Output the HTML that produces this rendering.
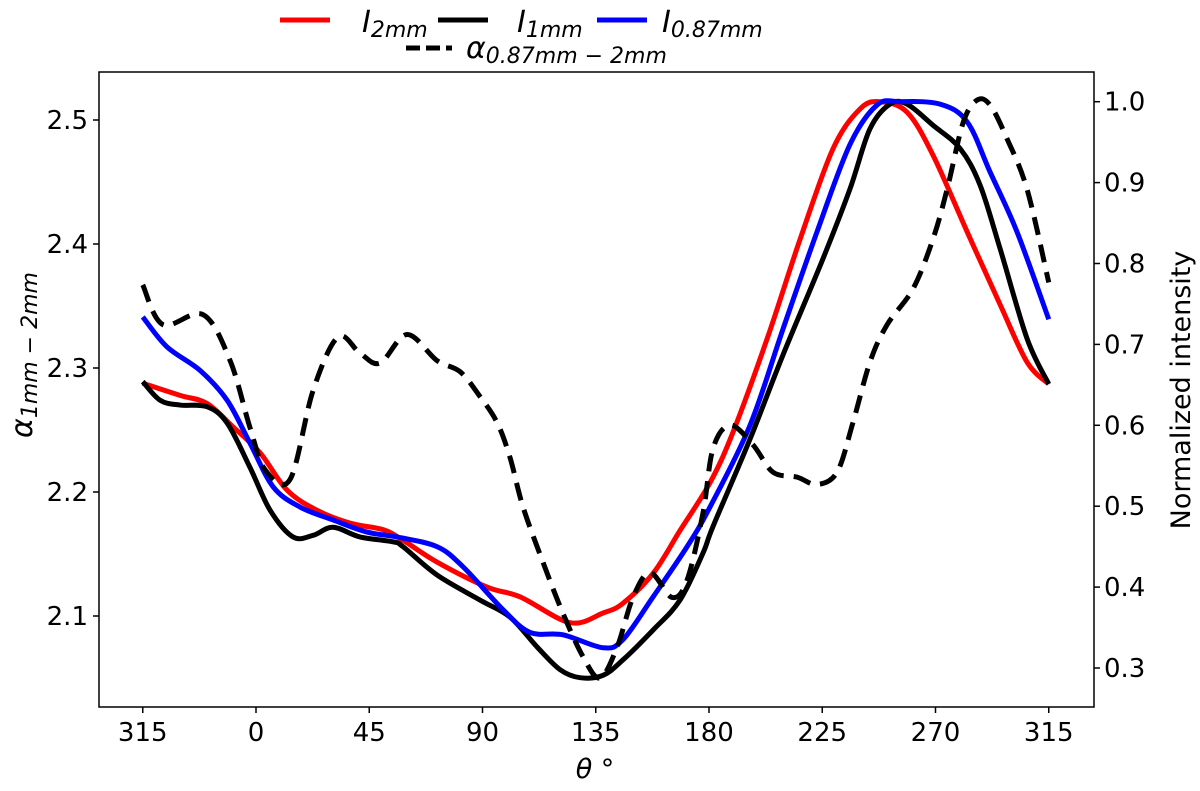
<!DOCTYPE html>
<html><head><meta charset="utf-8"><style>
body{margin:0;background:#fff;}
svg text{font-family:"DejaVu Sans","Liberation Sans",sans-serif;fill:#000;}
</style></head><body>
<svg id="chart" width="1200" height="786" viewBox="0 0 1200 786" xmlns="http://www.w3.org/2000/svg">
<g id="legend">
 <g><line x1="280" y1="20" x2="330" y2="20" stroke="#f00" stroke-width="5"/><text x="362" y="32" font-size="30" font-style="italic">I<tspan font-size="22" dy="5">2mm</tspan></text></g>
 <g><line x1="438" y1="20" x2="488" y2="20" stroke="#000" stroke-width="5"/><text x="517" y="32" font-size="30" font-style="italic">I<tspan font-size="22" dy="5">1mm</tspan></text></g>
 <g><line x1="597" y1="20" x2="647" y2="20" stroke="#00f" stroke-width="5"/><text x="662" y="32" font-size="30" font-style="italic">I<tspan font-size="22" dy="5">0.87mm</tspan></text></g>
 <g><line x1="406" y1="48" x2="452" y2="48" stroke="#000" stroke-width="5" stroke-dasharray="14,6"/><text x="466" y="58" font-size="30" font-style="italic">α<tspan font-size="22" dy="5">0.87mm − 2mm</tspan></text></g>
</g>
<g id="axes"></g>
<g id="series"></g>
<rect x="99" y="72" width="995" height="635" fill="none" stroke="#000" stroke-width="1.5"/>
<text transform="translate(32,355) rotate(-90)" text-anchor="middle" font-size="30" font-style="italic">α<tspan font-size="22" dy="5">1mm − 2mm</tspan></text>
<text transform="translate(1190,390) rotate(-90)" text-anchor="middle" font-size="27">Normalized intensity</text>
<text x="595" y="778" text-anchor="middle" font-size="27" font-style="italic">θ °</text>
</svg>
<script>
const xTicks=[-45,0,45,90,135,180,225,270,315];
const xTickLabels=["315","0","45","90","135","180","225","270","315"];
const leftTicks=[2.1,2.2,2.3,2.4,2.5];
const rightTicks=[0.3,0.4,0.5,0.6,0.7,0.8,0.9,1.0];
const alphaTheta=[-45,-37,-21,-10.3,-2.4,3.6,13.5,22.7,32.6,41.3,49.3,60,71.9,81.1,89,95.8,100.9,106.1,114.1,122,130,136.7,143.5,149.8,156.6,165.3,171.3,177.6,181.6,188.4,197.5,205.4,215,222.9,230.9,237.2,244,250.8,261.1,269,274.6,281,286.5,291.7,298.4,306.4,315];
const alphaVals=[2.367,2.335,2.343,2.306,2.252,2.218,2.21,2.282,2.325,2.312,2.304,2.327,2.306,2.297,2.277,2.256,2.228,2.188,2.143,2.102,2.067,2.05,2.075,2.115,2.135,2.115,2.129,2.183,2.235,2.254,2.238,2.216,2.212,2.206,2.216,2.256,2.305,2.335,2.364,2.404,2.444,2.498,2.516,2.512,2.485,2.444,2.369];
const redTheta=[-45,-30.2,-19.5,-9.1,1.6,12.3,24.2,37.4,50.5,58.4,71.9,91.8,104.9,124.8,137.9,145.8,157.8,168.5,180.4,189.6,203.1,216.2,229.3,240,248,258.7,269,282.6,295.7,306.4,315];
const redVals=[0.652,0.637,0.627,0.598,0.566,0.52,0.495,0.479,0.471,0.458,0.431,0.40,0.388,0.356,0.368,0.38,0.417,0.47,0.529,0.592,0.707,0.83,0.942,0.991,1.0,0.987,0.934,0.839,0.749,0.678,0.651];
const blackTheta=[-45,-38.1,-30.2,-19.5,-11.5,-2.4,5.6,14.7,22.7,30.6,41.3,54.4,58.4,71.9,89,100.9,111.7,120.8,128.8,137.9,145.8,157.8,168.5,177.6,181.6,196.3,209.4,225.3,236,243.9,251.9,258.7,269,279.8,287.7,295.7,306.4,315];
const blackVals=[0.654,0.631,0.625,0.623,0.603,0.548,0.495,0.462,0.464,0.474,0.462,0.456,0.45,0.415,0.384,0.363,0.326,0.298,0.288,0.291,0.31,0.347,0.384,0.442,0.475,0.583,0.687,0.806,0.892,0.966,0.997,0.997,0.971,0.942,0.897,0.818,0.707,0.651];
const blueTheta=[-45,-35.4,-22.3,-11.5,-2.4,6.8,17.5,30.6,44.1,56,71.9,82.3,98.2,108.9,122,137.9,145.8,157.8,171.3,180.4,196.3,209.4,222.9,236,246.8,255.9,271.8,282.6,291.7,302.4,315];
const blueVals=[0.734,0.697,0.668,0.631,0.578,0.524,0.499,0.483,0.468,0.462,0.45,0.425,0.372,0.344,0.341,0.325,0.335,0.388,0.45,0.499,0.60,0.719,0.839,0.947,0.996,1.0,0.997,0.975,0.913,0.839,0.731];

const X=t=>256+(t)*113.25/45;
const YL=a=>120+(2.5-a)*1240;
const YR=v=>668-(v-0.3)*809;
const NS="http://www.w3.org/2000/svg";
function mk(tag,attrs,parent){const e=document.createElementNS(NS,tag);for(const k in attrs)e.setAttribute(k,attrs[k]);parent.appendChild(e);return e;}
const axes=document.getElementById('axes');
xTicks.forEach((t,i)=>{
 const l=mk('line',{x1:X(t),x2:X(t),y1:707,y2:713,stroke:'#000','stroke-width':1.5},axes);
 
 
 const tx=mk('text',{x:X(t),y:741,'text-anchor':'middle','font-size':26},axes);tx.textContent=xTickLabels[i];
 
 
});
leftTicks.forEach(v=>{
 const l=mk('line',{x1:93,x2:99,y1:YL(v),y2:YL(v),stroke:'#000','stroke-width':1.5},axes);
 
 
 const tx=mk('text',{x:88,y:YL(v)+9,'text-anchor':'end','font-size':26},axes);tx.textContent=v.toFixed(1);
 
 
});
rightTicks.forEach(v=>{
 const l=mk('line',{x1:1094,x2:1100,y1:YR(v),y2:YR(v),stroke:'#000','stroke-width':1.5},axes);
 
 
 const tx=mk('text',{x:1104,y:YR(v)+9,'text-anchor':'start','font-size':26},axes);tx.textContent=v.toFixed(1);
 
 
});
function smooth(pts){let d='M'+pts[0][0]+','+pts[0][1];
 for(let i=0;i<pts.length-1;i++){const p0=pts[Math.max(0,i-1)],p1=pts[i],p2=pts[i+1],p3=pts[Math.min(pts.length-1,i+2)];
  const c1=[p1[0]+(p2[0]-p0[0])/6,p1[1]+(p2[1]-p0[1])/6],c2=[p2[0]-(p3[0]-p1[0])/6,p2[1]-(p3[1]-p1[1])/6];
  d+=' C'+c1[0]+','+c1[1]+' '+c2[0]+','+c2[1]+' '+p2[0]+','+p2[1];}
 return d;}
const series=document.getElementById('series');
function draw(th,vals,yf,color,name,dash){
 const pts=th.map((t,i)=>[X(t),yf(vals[i])]);
 const attrs={d:smooth(pts),fill:'none',stroke:color,'stroke-width':5,'stroke-linejoin':'round'};
 if(dash)attrs['stroke-dasharray']=dash;
 const p=mk('path',attrs,series);
 
 
}
draw(redTheta,redVals,YR,'#ff0000','line-i2mm');
draw(blackTheta,blackVals,YR,'#000000','line-i1mm');
draw(blueTheta,blueVals,YR,'#0000ff','line-i087mm');
draw(alphaTheta,alphaVals,YL,'#000000','line-alpha',"18,10");
</script>
</body></html>
